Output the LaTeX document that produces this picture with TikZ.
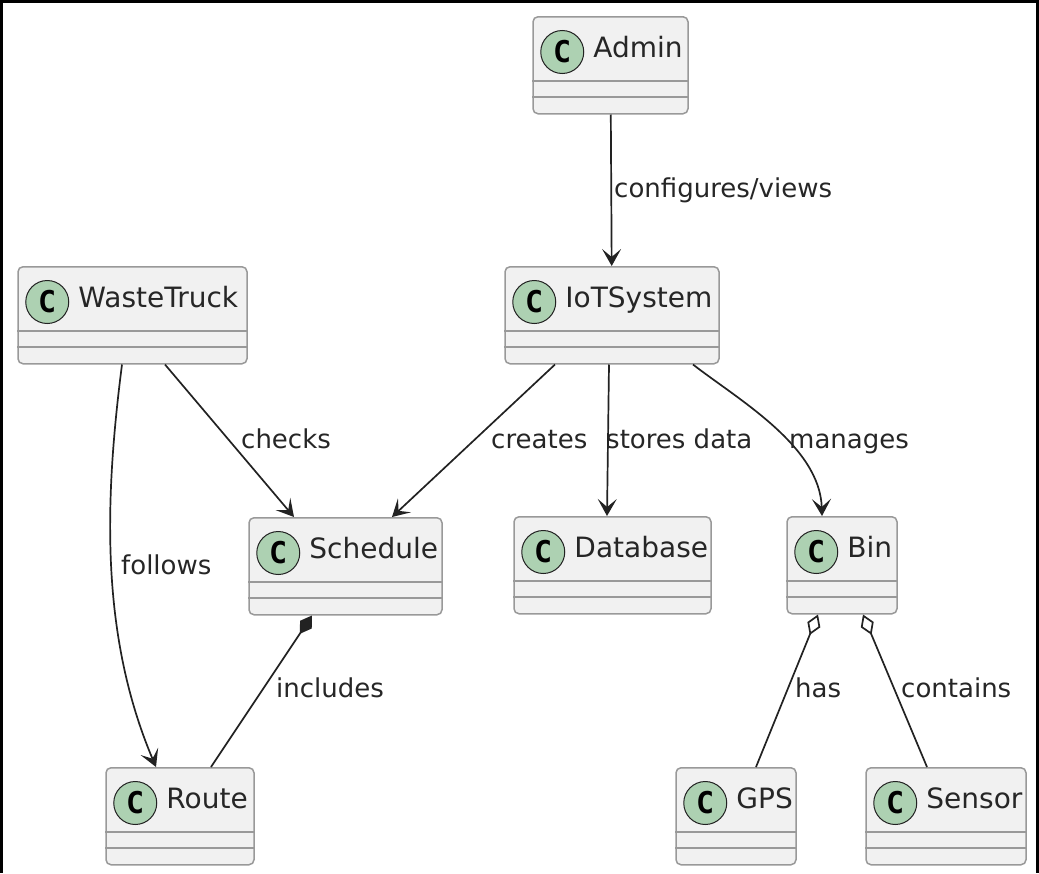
\documentclass[tikz,border=0pt]{standalone}
\usepackage{fontspec}
\setmainfont{DejaVu Sans}
\newfontfamily\badgefont{DejaVu Sans Mono}
\usetikzlibrary{arrows.meta}
\definecolor{boxfill}{HTML}{F1F1F1}
\definecolor{boxline}{HTML}{999999}
\definecolor{badgefill}{HTML}{ADD1B2}
\definecolor{edgeline}{HTML}{222222}

\begin{document}
\begin{tikzpicture}[
    x=1pt, y=-1pt,
    cls/.style={
        rectangle,
        rounded corners=5pt,
        minimum height=97pt,
        draw=boxline,
        line width=1.5pt,
        fill=boxfill,
        anchor=north,
        inner sep=0pt
    },
    sep/.style={boxline, line width=1.5pt},
    badge/.style={
        circle,
        minimum size=43pt,
        inner sep=0pt,
        draw=edgeline,
        line width=1pt,
        fill=badgefill,
        font=\fontsize{30}{30}\badgefont\bfseries
    },
    cname/.style={anchor=base west, inner sep=0pt, font=\fontsize{28}{34}\selectfont, text=black!85},
    lbl/.style={anchor=base west, inner sep=0pt, font=\fontsize{26}{31}\selectfont, text=black!85},
    arrow/.style={-{Stealth[length=17pt, width=19pt, inset=8pt]}, line width=1.7pt, edgeline},
    comp/.style={{Diamond[length=22pt, width=14pt]}-, line width=1.7pt, edgeline},
    aggr/.style={{Diamond[length=22pt, width=14pt, fill=white]}-, line width=1.7pt, edgeline}
]

\useasboundingbox (0,0) rectangle (1039,873);
\fill[black] (0,0) rectangle (1039,2.5);
\fill[black] (0,0) rectangle (3,873);
\fill[black] (1036,0) rectangle (1039,873);

\foreach \n/\x/\y/\w in {Admin/610.5/16/155, WasteTruck/132.5/266/229, IoTSystem/612/266/214,
    Schedule/345.5/517/193, Database/612.5/516/197, Bin/842/516/110,
    Route/180/767/148, GPS/736/767/120, Sensor/946/767/160}{
    \node[cls, minimum width=\w pt] (\n) at (\x,\y) {};
    \draw[sep] ([yshift=-65pt]\n.north west) -- ([yshift=-65pt]\n.north east);
    \draw[sep] ([yshift=-81pt]\n.north west) -- ([yshift=-81pt]\n.north east);
    \node[badge] (\n-badge) at ([xshift=30pt, yshift=-36pt]\n.north west) {C};
    \node[cname] (\n-name) at ([xshift=61pt, yshift=-41pt]\n.north west) {\n};
}

\draw[arrow] (Admin) -- (IoTSystem);
\draw[arrow] ([xshift=32.5pt]WasteTruck.south) -- ([xshift=-51.5pt]Schedule.north);
\draw[arrow] ([xshift=-57pt]IoTSystem.south) -- ([xshift=46.5pt]Schedule.north);
\draw[arrow] ([xshift=-3pt]IoTSystem.south) -- ([xshift=-5.5pt]Database.north);
\draw[arrow] ([xshift=81pt]IoTSystem.south) .. controls +(45,35) and +(-2,-70) .. ([xshift=-20pt]Bin.north);
\draw[arrow] ([xshift=-10.5pt]WasteTruck.south) .. controls +(-18,140) and +(-55,-130) .. ([xshift=-24pt]Route.north);
\draw[comp] ([xshift=-33.5pt]Schedule.south) -- ([xshift=31pt]Route.north);
\draw[aggr] ([xshift=-24pt]Bin.south) -- ([xshift=20pt]GPS.north);
\draw[aggr] ([xshift=21pt]Bin.south) -- ([xshift=-19pt]Sensor.north);

\node[lbl] (l-config) at (614,197) {configures/views};
\node[lbl] (l-checks) at (241,448) {checks};
\node[lbl] (l-creates) at (491,448) {creates};
\node[lbl] (l-stores) at (606,448) {stores data};
\node[lbl] (l-manages) at (789,448) {manages};
\node[lbl] (l-follows) at (121,574) {follows};
\node[lbl] (l-includes) at (276,697) {includes};
\node[lbl] (l-has) at (795,697) {has};
\node[lbl] (l-contains) at (901,697) {contains};

\end{tikzpicture}
\end{document}
